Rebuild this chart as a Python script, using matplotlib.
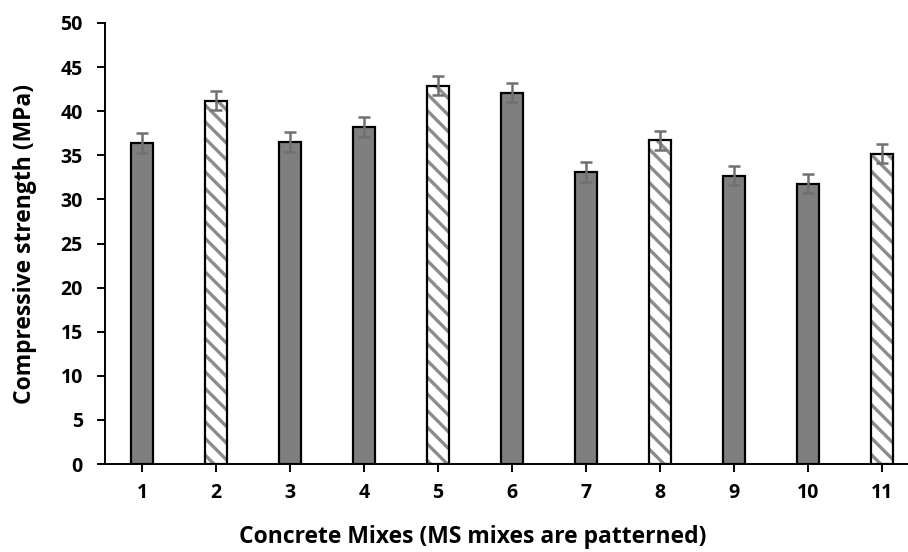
import matplotlib
matplotlib.use("Agg")
from matplotlib import pyplot as plt

mixes = [1, 2, 3, 4, 5, 6, 7, 8, 9, 10, 11]
strength = [36.4, 41.2, 36.5, 38.2, 42.9, 42.1, 33.1, 36.7, 32.7, 31.8, 35.2]
err = [1.1, 1.1, 1.1, 1.1, 1.1, 1.1, 1.1, 1.1, 1.1, 1.1, 1.1]
patterned = [False, True, False, False, True, False, False, True, False, False, True]

plt.rcParams['font.family'] = ['Open Sans', 'DejaVu Sans']
plt.rcParams['hatch.linewidth'] = 2.4

fig = plt.figure(figsize=(9.08, 5.52), dpi=100)
ax = fig.add_axes([105 / 908, 88 / 552, 814 / 908, 441 / 552])

w = 0.31
for x, v, p in zip(mixes, strength, patterned):
    if p:
        # gray stripes first, then the black outline on top
        ax.bar(x, v, w, color='white', edgecolor='#8c8c8c', hatch='\\\\',
               linewidth=0, zorder=2)
        ax.bar(x, v, w, facecolor='none', edgecolor='black', linewidth=1.6, zorder=3)
    else:
        ax.bar(x, v, w, color='#7f7f7f', edgecolor='black', linewidth=1.6, zorder=2)

ax.errorbar(mixes, strength, yerr=err, fmt='none', ecolor='#707070',
            elinewidth=1.8, capsize=4.5, capthick=1.8, zorder=4)

ax.set_xlim(0.5, 11.5)
ax.set_ylim(0, 50)
ax.set_yticks(range(0, 51, 5))
ax.set_xticks(mixes)
for s in ['top', 'right']:
    ax.spines[s].set_visible(False)
for s in ['left', 'bottom']:
    ax.spines[s].set_linewidth(1.4)
ax.tick_params(axis='both', direction='out', length=6, width=1.4, labelsize=14)
ax.tick_params(axis='x', pad=8)
ax.tick_params(axis='y', pad=10)
for lab in ax.get_xticklabels() + ax.get_yticklabels():
    lab.set_fontweight('bold')

fig.text(25 / 908, 1 - 244 / 552, 'Compressive strength (MPa)', rotation=90,
         ha='center', va='center', fontsize=16.5, fontweight='bold')
fig.text(473 / 908, 1 - 537 / 552, 'Concrete Mixes (MS mixes are patterned)',
         ha='center', va='center', fontsize=16.5, fontweight='bold')

fig.savefig('out.png', dpi=100)
